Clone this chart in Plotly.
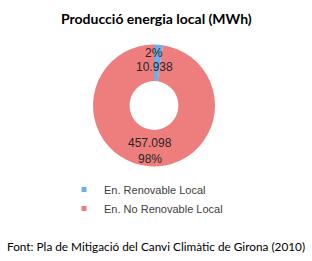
import plotly.graph_objects as go

labels = ["En. Renovable Local", "En. No Renovable Local"]
values = [10938, 457098]
colors = ["#6FAEE8", "#EE7E7E"]

W, H = 312, 261
total = sum(values)
pcts = [round(v / total * 100) for v in values]
fmt = [f"{v:,}".replace(",", ".") for v in values]

fig = go.Figure(go.Pie(
    labels=labels, values=values, hole=0.4, sort=False,
    direction="clockwise", rotation=0,
    marker=dict(colors=colors, line=dict(width=0)),
    textinfo="none", hoverinfo="label+value+percent",
    domain=dict(x=[93 / W, 215 / W], y=[1 - 167 / H, 1 - 44 / H]),
    showlegend=False,
))

# legend-only marker traces (small square swatches like the original)
for lab, col in zip(labels, colors):
    fig.add_trace(go.Scatter(x=[None], y=[None], mode="markers", name=lab,
                             marker=dict(symbol="square", size=5, color=col),
                             showlegend=True))

ann_font = dict(family="Liberation Sans, Arial", size=12, color="#262626")
texts = [
    (f"{pcts[0]}%", 154, 53),
    (fmt[0], 154, 67),
    (fmt[1], 150, 143),
    (f"{pcts[1]}%", 150, 159),
]
anns = [dict(text=t, x=x / W, y=1 - y / H, xref="paper", yref="paper",
             xanchor="center", yanchor="middle",
             showarrow=False, font=ann_font) for t, x, y in texts]
anns.append(dict(text="<b>Producció energia local (MWh)</b>", x=0.5, y=1 - 18 / H,
                 xref="paper", yref="paper", showarrow=False,
                 xanchor="center", yanchor="middle",
                 font=dict(family="Lato, Open Sans", size=14, color="#000000")))
anns.append(dict(text="Font: Pla de Mitigació del Canvi Climàtic de Girona (2010)",
                 x=0.5, y=1 - 246 / H, xref="paper", yref="paper", showarrow=False,
                 xanchor="center", yanchor="middle",
                 font=dict(family="Lato, Open Sans", size=11.8, color="#000000")))

fig.update_layout(
    width=W, height=H, margin=dict(l=0, r=0, t=0, b=0),
    paper_bgcolor="white", plot_bgcolor="white",
    xaxis=dict(visible=False), yaxis=dict(visible=False),
    annotations=anns,
    showlegend=True,
    legend=dict(x=64 / W, xanchor="left", y=1 - 175 / H, yanchor="top",
                font=dict(family="Liberation Sans, Arial", size=11, color="#404040"),
                itemsizing="trace", tracegroupgap=0, itemwidth=30,
                bgcolor="rgba(0,0,0,0)"),
)

fig.write_html("out.html")
